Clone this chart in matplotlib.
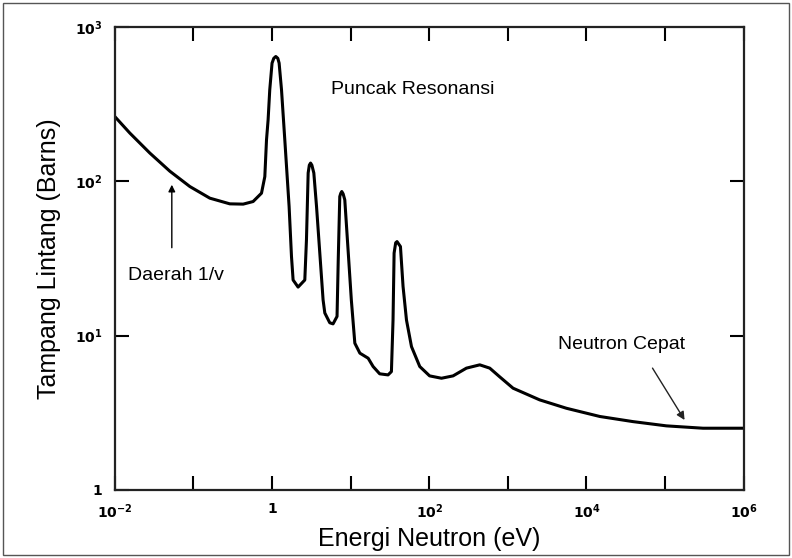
import matplotlib
matplotlib.use("Agg")
import matplotlib.pyplot as plt
from matplotlib.patches import Rectangle

plt.rcParams['font.family'] = ['Liberation Sans', 'DejaVu Sans']
plt.rcParams['mathtext.fontset'] = 'dejavusans'

# energi neutron (eV) dan tampang lintang (barns)
energi = [0.01, 0.0155, 0.0279, 0.0501, 0.090, 0.1616, 0.290, 0.429, 0.574, 0.734,
          0.809, 0.850, 0.891, 0.935, 1.00, 1.052, 1.116, 1.183, 1.230, 1.319,
          1.453, 1.648, 1.767, 1.853, 2.144, 2.61, 2.74, 2.88, 2.98, 3.09,
          3.21, 3.40, 3.68, 4.05, 4.46, 4.69, 5.42, 5.97, 6.71, 6.95,
          7.27, 7.48, 7.71, 8.02, 8.42, 9.27, 10.2, 11.3, 13.1, 16.7,
          19.3, 23.4, 29.9, 33.0, 34.6, 35.7, 37.4, 38.9, 43.0, 46.4,
          51.3, 59.4, 75.7, 101, 143, 201, 297, 439, 588, 788,
          1164, 2540, 5560, 14800, 39100, 104000, 304000, 1e6]
sigma = [262, 205, 152, 116, 92.3, 77.6, 71.3, 71.0, 73.8, 83.6,
         107, 185, 250, 391, 582, 625, 642, 625, 582, 391,
         185, 68.5, 32.5, 22.9, 20.6, 22.9, 41.7, 113, 127, 131,
         127, 113, 68.5, 34.2, 17.0, 14.0, 12.1, 11.9, 13.3, 30.9,
         79.5, 83.4, 85.7, 82.8, 75.7, 35.9, 17.0, 8.92, 7.69, 7.13,
         6.30, 5.65, 5.56, 5.84, 12.6, 34.2, 39.9, 40.6, 37.7, 20.8,
         12.6, 8.48, 6.30, 5.48, 5.29, 5.48, 6.15, 6.46, 6.15, 5.40,
         4.56, 3.83, 3.38, 2.99, 2.77, 2.60, 2.51, 2.51]

xticks = [1e-2, 1e-1, 1, 1e1, 1e2, 1e3, 1e4, 1e5, 1e6]
xticklabels = [r'$\mathbf{10}^{\mathbf{-2}}$', '', r'$\mathbf{1}$', '',
               r'$\mathbf{10}^{\mathbf{2}}$', '', r'$\mathbf{10}^{\mathbf{4}}$', '',
               r'$\mathbf{10}^{\mathbf{6}}$']
yticks = [1, 10, 100, 1000]
yticklabels = [r'$\mathbf{1}$', r'$\mathbf{10}^{\mathbf{1}}$',
               r'$\mathbf{10}^{\mathbf{2}}$', r'$\mathbf{10}^{\mathbf{3}}$']

fig = plt.figure(figsize=(7.92, 5.58), dpi=100)
ax = fig.add_axes([0.145, 0.122, 0.794, 0.830])

ax.plot(energi, sigma, color='black', lw=2.2, solid_joinstyle='round')

ax.set_xscale('log')
ax.set_yscale('log')
ax.set_xlim(1e-2, 1e6)
ax.set_ylim(1, 1e3)

ax.set_xticks(xticks)
ax.set_xticklabels(xticklabels, fontsize=10)
ax.set_yticks(yticks)
ax.set_yticklabels(yticklabels, fontsize=10)
ax.minorticks_off()
ax.tick_params(axis='both', which='major', direction='in', length=10, width=1.5,
               top=True, right=True, pad=9, colors='black')

for s in ax.spines.values():
    s.set_linewidth(1.6)
    s.set_color('#222222')

ax.set_xlabel('Energi Neutron (eV)', fontsize=18, labelpad=4)
ax.set_ylabel('Tampang Lintang (Barns)', fontsize=18, labelpad=10)

# keterangan
ax.text(0.474, 0.864, 'Puncak Resonansi', transform=ax.transAxes,
        ha='center', va='center', fontsize=14)
ax.text(0.021, 0.464, 'Daerah 1/v', transform=ax.transAxes,
        ha='left', va='center', fontsize=14)
ax.text(0.806, 0.313, 'Neutron Cepat', transform=ax.transAxes,
        ha='center', va='center', fontsize=14)

ax.annotate('', xy=(0.0906, 0.659), xytext=(0.0906, 0.523),
            xycoords='axes fraction', textcoords='axes fraction',
            arrowprops=dict(arrowstyle='-|>', color='black', lw=1.0,
                            mutation_scale=10, shrinkA=0, shrinkB=0))
ax.annotate('', xy=(0.906, 0.151), xytext=(0.855, 0.263),
            xycoords='axes fraction', textcoords='axes fraction',
            arrowprops=dict(arrowstyle='-|>', color='#222222', lw=1.0,
                            mutation_scale=12, shrinkA=0, shrinkB=0))

# bingkai luar gambar
fig.patches.append(Rectangle((0.004, 0.005), 0.992, 0.99, transform=fig.transFigure,
                             fill=False, edgecolor='#555555', lw=1.0))

fig.savefig('out.png', dpi=100)
